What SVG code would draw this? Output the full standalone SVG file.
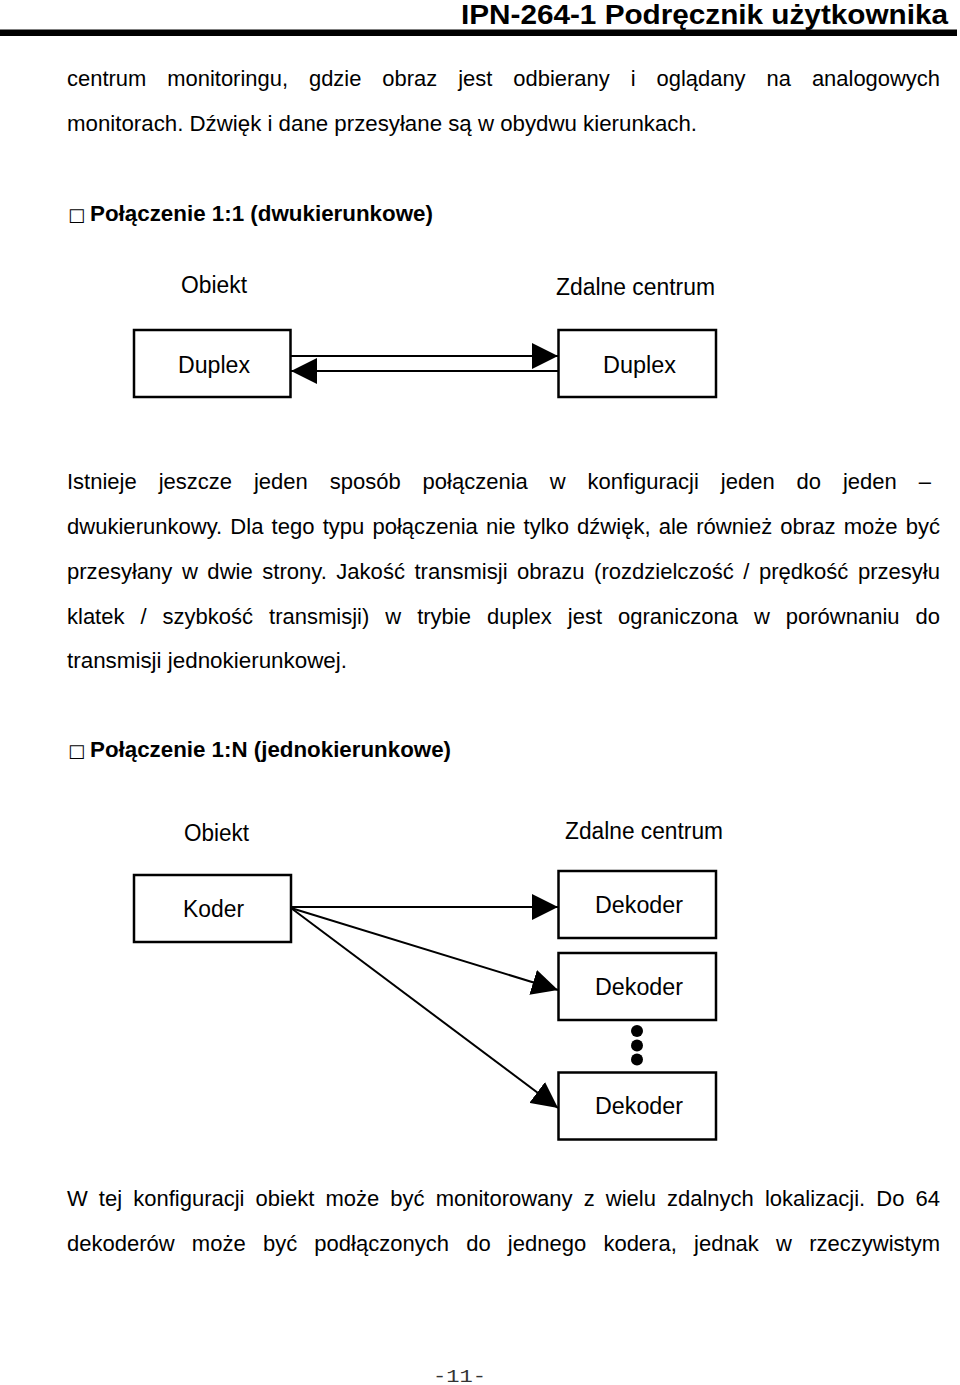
<svg xmlns="http://www.w3.org/2000/svg" width="960" height="1385" viewBox="0 0 960 1385">
<defs>
<style>
.t{font-family:"Liberation Sans",Arial,sans-serif;font-size:22px;fill:#000}
.b{font-weight:bold}
.lbl{font-size:23px}
.tofu{font-family:"DejaVu Sans",sans-serif;font-size:18px;fill:#000}
.box{fill:#fff;stroke:#000;stroke-width:2.5}
.conn{stroke:#000;stroke-width:2;fill:none}
.dot{fill:#000}
</style>
<marker id="ah" markerUnits="userSpaceOnUse" markerWidth="26" markerHeight="26" viewBox="0 0 25 25" refX="25" refY="12.5" orient="auto">
<path d="M0,0 L25,12.5 L0,25 Z" fill="#000"/>
</marker>
</defs>
<rect width="960" height="1385" fill="#fff"/>

<g id="header">
<text class="t b" x="461" y="24" textLength="487" lengthAdjust="spacingAndGlyphs" style="font-size:27px">IPN-264-1 Podręcznik użytkownika</text>
<rect x="0" y="29.5" width="957" height="6.5" fill="#000"/>
</g>

<g id="intro-text">
<text class="t" x="67" y="86" word-spacing="14.9" textLength="873" lengthAdjust="spacingAndGlyphs">centrum monitoringu, gdzie obraz jest odbierany i oglądany na analogowych</text>
<text class="t" x="67" y="131" textLength="630" lengthAdjust="spacingAndGlyphs">monitorach. Dźwięk i dane przesyłane są w obydwu kierunkach.</text>
</g>

<g id="heading-1">
<text class="tofu" x="68" y="221">□</text>
<text class="t b" x="90" y="221" textLength="343" lengthAdjust="spacingAndGlyphs">Połączenie 1:1 (dwukierunkowe)</text>
</g>

<g id="diagram-1-labels">
<text class="t lbl" x="181" y="293" textLength="66" lengthAdjust="spacingAndGlyphs">Obiekt</text>
<text class="t lbl" x="556" y="295" textLength="159" lengthAdjust="spacingAndGlyphs">Zdalne centrum</text>
</g>

<g id="node-duplex-obiekt">
<rect class="box" x="134" y="330" width="156.5" height="67"/>
<text class="t lbl" x="178" y="373" textLength="72" lengthAdjust="spacingAndGlyphs">Duplex</text>
</g>
<g id="node-duplex-centrum">
<rect class="box" x="558.5" y="330" width="157.5" height="67"/>
<text class="t lbl" x="603" y="373" textLength="73" lengthAdjust="spacingAndGlyphs">Duplex</text>
</g>

<g id="paragraph-2">
<text class="t" x="67" y="489" word-spacing="15.8" textLength="864" lengthAdjust="spacingAndGlyphs">Istnieje jeszcze jeden sposób połączenia w konfiguracji jeden do jeden –</text>
<text class="t" x="67" y="534" word-spacing="2.0" textLength="873" lengthAdjust="spacingAndGlyphs">dwukierunkowy. Dla tego typu połączenia nie tylko dźwięk, ale również obraz może być</text>
<text class="t" x="67" y="579" word-spacing="3.4" textLength="873" lengthAdjust="spacingAndGlyphs">przesyłany w dwie strony. Jakość transmisji obrazu (rozdzielczość / prędkość przesyłu</text>
<text class="t" x="67" y="624" word-spacing="9.9" textLength="873" lengthAdjust="spacingAndGlyphs">klatek / szybkość transmisji) w trybie duplex jest ograniczona w porównaniu do</text>
<text class="t" x="67" y="668" textLength="280" lengthAdjust="spacingAndGlyphs">transmisji jednokierunkowej.</text>
</g>

<g id="heading-2">
<text class="tofu" x="68" y="757">□</text>
<text class="t b" x="90" y="757" textLength="361" lengthAdjust="spacingAndGlyphs">Połączenie 1:N (jednokierunkowe)</text>
</g>

<g id="diagram-2-labels">
<text class="t lbl" x="184" y="841" textLength="65" lengthAdjust="spacingAndGlyphs">Obiekt</text>
<text class="t lbl" x="565" y="839" textLength="158" lengthAdjust="spacingAndGlyphs">Zdalne centrum</text>
</g>

<g id="node-koder">
<rect class="box" x="134" y="875" width="157" height="67"/>
<text class="t lbl" x="183" y="917" textLength="61" lengthAdjust="spacingAndGlyphs">Koder</text>
</g>
<g id="node-dekoder-1">
<rect class="box" x="558.5" y="871" width="157.5" height="67"/>
<text class="t lbl" x="595" y="913" textLength="88" lengthAdjust="spacingAndGlyphs">Dekoder</text>
</g>
<g id="node-dekoder-2">
<rect class="box" x="558.5" y="953" width="157.5" height="67"/>
<text class="t lbl" x="595" y="995" textLength="88" lengthAdjust="spacingAndGlyphs">Dekoder</text>
</g>
<g id="node-dekoder-3">
<rect class="box" x="558.5" y="1072.5" width="157.5" height="67"/>
<text class="t lbl" x="595" y="1114" textLength="88" lengthAdjust="spacingAndGlyphs">Dekoder</text>
</g>

<g id="ellipsis">
<circle class="dot" cx="637" cy="1031" r="6"/>
<circle class="dot" cx="637" cy="1045.5" r="6"/>
<circle class="dot" cx="637" cy="1059.5" r="6"/>
</g>

<g id="connectors">
<line class="conn" x1="291" y1="356" x2="558" y2="356" marker-end="url(#ah)"/>
<line class="conn" x1="558" y1="371" x2="291" y2="371" marker-end="url(#ah)"/>
<line class="conn" x1="291" y1="907" x2="558" y2="907" marker-end="url(#ah)"/>
<line class="conn" x1="291" y1="908" x2="558" y2="990" marker-end="url(#ah)"/>
<line class="conn" x1="291" y1="908" x2="558" y2="1108" marker-end="url(#ah)"/>
</g>

<g id="paragraph-3">
<text class="t" x="67" y="1206" word-spacing="5.0" textLength="873" lengthAdjust="spacingAndGlyphs">W tej konfiguracji obiekt może być monitorowany z wielu zdalnych lokalizacji. Do 64</text>
<text class="t" x="67" y="1251" word-spacing="11.1" textLength="873" lengthAdjust="spacingAndGlyphs">dekoderów może być podłączonych do jednego kodera, jednak w rzeczywistym</text>
</g>

<g id="footer">
<text x="433" y="1382" font-family="'Liberation Mono',monospace" font-size="18" fill="#333" textLength="53" lengthAdjust="spacingAndGlyphs">-11-</text>
</g>
</svg>
